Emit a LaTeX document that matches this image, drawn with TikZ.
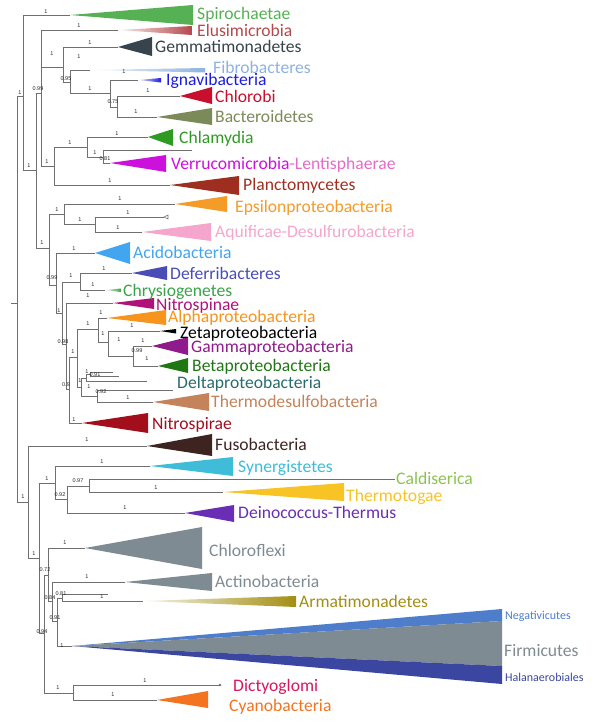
\documentclass[tikz,border=0pt]{standalone}
\usepackage{fontspec}
\setmainfont{Carlito}
\newfontfamily\supfamily{Liberation Sans}
\newcommand\txfont{\fontsize{17.6}{19}\selectfont}
\newcommand\smfont{\fontsize{12}{13}\selectfont}
\newcommand\bsfnt{\supfamily\fontsize{5.5}{6}\selectfont}
\definecolor{brcol}{HTML}{707070}
\definecolor{spiroC}{HTML}{55B153}
\definecolor{elusC}{HTML}{B5484C}
\definecolor{gemmC}{HTML}{37434D}
\definecolor{fibroC}{HTML}{8EB2E0}
\definecolor{ignaC}{HTML}{1C1CE0}
\definecolor{chlorobiC}{HTML}{C8102E}
\definecolor{bactC}{HTML}{7B8A58}
\definecolor{chlamC}{HTML}{2E9A22}
\definecolor{verrC}{HTML}{CC11DD}
\definecolor{lentC}{HTML}{E46BC8}
\definecolor{plancC}{HTML}{9E2F20}
\definecolor{epsiC}{HTML}{F49B28}
\definecolor{aquiC}{HTML}{F4A6CC}
\definecolor{acidoC}{HTML}{42A5F0}
\definecolor{deferC}{HTML}{4A4DB6}
\definecolor{chrysC}{HTML}{3BA349}
\definecolor{nitrospC}{HTML}{B0127A}
\definecolor{alphaC}{HTML}{F7941D}
\definecolor{gammaC}{HTML}{8E1A8B}
\definecolor{betaC}{HTML}{217614}
\definecolor{deltaC}{HTML}{2A6B6B}
\definecolor{tdesC}{HTML}{C4835A}
\definecolor{nspirC}{HTML}{A30E1C}
\definecolor{fusoC}{HTML}{3D2421}
\definecolor{synC}{HTML}{3EBCD8}
\definecolor{caldC}{HTML}{8CC252}
\definecolor{tmtgC}{HTML}{F7C325}
\definecolor{deinoC}{HTML}{6A2EB4}
\definecolor{grayC}{HTML}{7F8B92}
\definecolor{armatC}{HTML}{A38E12}
\definecolor{negC}{HTML}{4D7DCB}
\definecolor{halC}{HTML}{3A46A0}
\definecolor{dictC}{HTML}{D8175E}
\definecolor{cyanoC}{HTML}{F47320}
\tikzset{
  br/.style={draw=brcol, line width=0.85pt},
  lab/.style={font=\txfont, anchor=base west, inner sep=0pt},
  smlab/.style={font=\smfont, anchor=base west, inner sep=0pt},
  sup/.style={font=\bsfnt, inner sep=0pt, text=black!85},
}
\newcommand\tvert[3]{\draw[br] (#1 |- #2) -- (#1 |- #3);}
\newcommand\tbr[2]{\draw[br] (#1 |- #2) -- (#2);}
\newcommand\ctri[5]{\fill[#5] (#1) -- (#2,#3) -- (#2,#4) -- cycle;}
\newcommand\gtri[5]{\shade[left color=#5!10, right color=#5] (#1) -- (#2,#3) -- (#2,#4) -- cycle;}
\begin{document}
\begin{tikzpicture}[x=1pt,y=-1pt]
\useasboundingbox (0,0) rectangle (602,723);
% internal nodes
\coordinate (R0) at (17,300);
\coordinate (rt) at (11,303);
\coordinate (A) at (23,96);
\coordinate (B) at (36,170);
\coordinate (C) at (41,93);
\coordinate (E) at (63,67);
\coordinate (F) at (70,82);
\coordinate (G) at (110,93);
\coordinate (H) at (117,107);
\coordinate (I) at (54,166);
\coordinate (J) at (87,147);
\coordinate (K) at (103,157);
\coordinate (D) at (49,248);
\coordinate (L) at (64,214);
\coordinate (M) at (95,224);
\coordinate (N) at (56,285);
\coordinate (O) at (62,313);
\coordinate (P) at (80,282);
\coordinate (Q) at (66,344);
\coordinate (S) at (69,389);
\coordinate (T) at (77,357);
\coordinate (U) at (98,329);
\coordinate (W) at (108,342);
\coordinate (X) at (133,356);
\coordinate (V) at (81,387);
\coordinate (Z) at (86,378);
\coordinate (Z1) at (90,374);
\coordinate (Y) at (97,396);
\coordinate (AA) at (28,502);
\coordinate (BB) at (39,558);
\coordinate (CC) at (55,483);
\coordinate (JJ) at (67,499);
\coordinate (KK) at (89,486);
\coordinate (DD) at (44,633);
\coordinate (EE) at (48,575);
\coordinate (FF) at (52,601);
\coordinate (GG) at (57,621);
\coordinate (HH) at (62,598);
\coordinate (II) at (73,693);
% leaves
\coordinate (spiro) at (70,15);
\coordinate (elus) at (118,30);
\coordinate (gemm) at (118,47);
\coordinate (fibro) at (90,70);
\coordinate (igna) at (138,80);
\coordinate (chlb) at (180,96);
\coordinate (bact) at (157,117);
\coordinate (chlam) at (148,137);
\coordinate (lk) at (192,150);
\coordinate (verr) at (110,163);
\coordinate (planc) at (170,185);
\coordinate (epsi) at (175,204);
\coordinate (lm) at (164,217);
\coordinate (aqui) at (142,232);
\coordinate (acido) at (95,253);
\coordinate (defer) at (132,273);
\coordinate (chrys) at (105,290);
\coordinate (nitsp) at (113,303);
\coordinate (alpha) at (107,318);
\coordinate (zeta) at (160,331);
\coordinate (gamma) at (152,346);
\coordinate (beta) at (158,366);
\coordinate (d1) at (113,372);
\coordinate (d2) at (119,376);
\coordinate (d3) at (147,381);
\coordinate (d4) at (173,390);
\coordinate (tdes) at (153,402);
\coordinate (nspir) at (82,423);
\coordinate (fuso) at (147,446);
\coordinate (syn) at (150,466);
\coordinate (cald) at (395,479);
\coordinate (tmtg) at (223,492);
\coordinate (deino) at (185,513);
\coordinate (chlfx) at (85,548);
\coordinate (actino) at (125,582);
\coordinate (lh) at (108,594);
\coordinate (armat) at (143,601);
\coordinate (firm) at (72,646);
\coordinate (dict) at (220,685);
\coordinate (cyano) at (157,700);
% clade triangles
\ctri{spiro}{193}{5}{25}{spiroC}
\gtri{elus}{192}{26}{35}{elusC}
\ctri{gemm}{152}{37}{56}{gemmC}
\gtri{fibro}{205}{68}{72.5}{fibroC}
\gtri{igna}{161}{78}{82.5}{ignaC}
\ctri{chlb}{212}{87}{104}{chlorobiC}
\ctri{bact}{212}{108}{125}{bactC}
\ctri{chlam}{173}{129}{146}{chlamC}
\ctri{verr}{166}{155}{172}{verrC}
\ctri{planc}{239}{176}{195}{plancC}
\ctri{epsi}{227}{196}{212}{epsiC}
\ctri{aqui}{211}{223}{241}{aquiC}
\ctri{acido}{130}{242}{264}{acidoC}
\ctri{defer}{167}{266}{280}{deferC}
\gtri{chrys}{121}{288.5}{292}{chrysC}
\ctri{nitsp}{154}{298}{309}{nitrospC}
\ctri{alpha}{166}{310}{325}{alphaC}
\ctri{zeta}{176}{329}{333.5}{black}
\ctri{gamma}{188}{337}{355}{gammaC}
\ctri{beta}{188}{358}{373}{betaC}
\ctri{tdes}{209}{393}{411}{tdesC}
\ctri{nspir}{148}{413}{433}{nspirC}
\ctri{fuso}{212}{434}{456}{fusoC}
\ctri{syn}{233}{457}{476}{synC}
\ctri{tmtg}{344}{483}{501}{tmtgC}
\ctri{deino}{234}{505}{522}{deinoC}
\ctri{chlfx}{202}{527}{569}{grayC}
\ctri{actino}{212}{573}{591}{grayC}
\gtri{armat}{296}{596}{607}{armatC}
\fill[negC] (firm) -- (502,609) -- (502,621) -- cycle;
\fill[grayC] (firm) -- (502,621) -- (502,666) -- cycle;
\fill[halC] (firm) -- (502,666) -- (502,684) -- cycle;
\ctri{cyano}{208}{691}{708}{cyanoC}
% tree
\draw[br] (rt) -- (R0 |- rt);
\tvert{R0}{A}{AA} \tbr{R0}{A} \tbr{R0}{AA}
\tvert{A}{spiro}{B} \tbr{A}{spiro} \tbr{A}{B}
\tvert{B}{C}{D} \tbr{B}{C} \tbr{B}{D}
\tvert{C}{elus}{I} \tbr{C}{elus} \tbr{C}{E} \tbr{C}{I}
\tvert{E}{gemm}{F} \tbr{E}{gemm} \tbr{E}{F}
\tvert{F}{fibro}{G} \tbr{F}{fibro} \tbr{F}{G}
\tvert{G}{igna}{H} \tbr{G}{igna} \tbr{G}{H}
\tvert{H}{chlb}{bact} \tbr{H}{chlb} \tbr{H}{bact}
\tvert{I}{J}{planc} \tbr{I}{J} \tbr{I}{planc}
\tvert{J}{chlam}{K} \tbr{J}{chlam} \tbr{J}{K}
\tvert{K}{lk}{verr} \tbr{K}{lk} \tbr{K}{verr}
\tvert{D}{L}{N} \tbr{D}{L} \tbr{D}{N}
\tvert{L}{epsi}{M} \tbr{L}{epsi} \tbr{L}{M}
\tvert{M}{lm}{aqui} \tbr{M}{lm} \tbr{M}{aqui}
\tvert{N}{acido}{O} \tbr{N}{acido} \tbr{N}{O}
\tvert{O}{P}{Q} \tbr{O}{P} \tbr{O}{Q}
\tvert{P}{defer}{chrys} \tbr{P}{defer} \tbr{P}{chrys}
\tvert{Q}{nitsp}{S} \tbr{Q}{nitsp} \tbr{Q}{S}
\tvert{S}{T}{nspir} \tbr{S}{T} \tbr{S}{nspir}
\tvert{T}{U}{V} \tbr{T}{U} \tbr{T}{V}
\tvert{U}{alpha}{W} \tbr{U}{alpha} \tbr{U}{W}
\tvert{W}{zeta}{X} \tbr{W}{zeta} \tbr{W}{X}
\tvert{X}{gamma}{beta} \tbr{X}{gamma} \tbr{X}{beta}
\tvert{V}{Z}{Y} \tbr{V}{Z} \tbr{V}{Y}
\tvert{Z}{Z1}{d3} \tbr{Z}{Z1} \tbr{Z}{d3}
\tvert{Z1}{d1}{d2} \tbr{Z1}{d1} \tbr{Z1}{d2}
\tvert{Y}{d4}{tdes} \tbr{Y}{d4} \tbr{Y}{tdes}
\tvert{AA}{fuso}{BB} \tbr{AA}{fuso} \tbr{AA}{BB}
\tvert{BB}{CC}{DD} \tbr{BB}{CC} \tbr{BB}{DD}
\tvert{CC}{syn}{JJ} \tbr{CC}{syn} \tbr{CC}{JJ}
\tvert{JJ}{KK}{deino} \tbr{JJ}{KK} \tbr{JJ}{deino}
\tvert{KK}{cald}{tmtg} \tbr{KK}{cald} \tbr{KK}{tmtg}
\tvert{DD}{EE}{II} \tbr{DD}{EE} \tbr{DD}{II}
\tvert{EE}{chlfx}{FF} \tbr{EE}{chlfx} \tbr{EE}{FF}
\tvert{FF}{actino}{GG} \tbr{FF}{actino} \tbr{FF}{GG}
\tvert{GG}{HH}{firm} \tbr{GG}{HH} \tbr{GG}{firm}
\tvert{HH}{lh}{armat} \tbr{HH}{lh} \tbr{HH}{armat}
\tvert{II}{dict}{cyano} \tbr{II}{dict} \tbr{II}{cyano}
% leaf end markers
\draw[brcol, line width=0.6pt] (lm) -- ++(4,-2) -- ++(0,4) -- cycle;
\fill[brcol] (dict) circle (1.3);
% clade labels
\node[lab, text=spiroC] (tSpiro) at (197,19) {Spirochaetae};
\node[lab, text=elusC] (tElus) at (197,36) {Elusimicrobia};
\node[lab, text=gemmC] (tGemm) at (155,52.5) {Gemmatimonadetes};
\node[lab, text=fibroC] (tFibro) at (213,73.5) {Fibrobacteres};
\node[lab, text=ignaC] (tIgna) at (166,85.5) {Ignavibacteria};
\node[lab, text=chlorobiC] (tChlb) at (215,102.5) {Chlorobi};
\node[lab, text=bactC] (tBact) at (215,122.5) {Bacteroidetes};
\node[lab, text=chlamC] (tChlam) at (179,143.5) {Chlamydia};
\node[lab] (tVerr) at (171,169.5) {\textcolor{verrC}{Verrucomicrobia}\textcolor{lentC}{-Lentisphaerae}};
\node[lab, text=plancC] (tPlanc) at (243,190) {Planctomycetes};
\node[lab, text=epsiC] (tEpsi) at (235,212.5) {Epsilonproteobacteria};
\node[lab, text=aquiC] (tAqui) at (215,237.5) {Aquificae-Desulfurobacteria};
\node[lab, text=acidoC] (tAcido) at (133,258.5) {Acidobacteria};
\node[lab, text=deferC] (tDefer) at (170,279.5) {Deferribacteres};
\node[lab, text=chrysC] (tChrys) at (123,296) {Chrysiogenetes};
\node[lab, text=nitrospC] (tNitsp) at (156,310) {Nitrospinae};
\node[lab, text=alphaC] (tAlpha) at (168,322.5) {Alphaproteobacteria};
\node[lab, text=black] (tZeta) at (180,338) {Zetaproteobacteria};
\node[lab, text=gammaC] (tGamma) at (191,352.5) {Gammaproteobacteria};
\node[lab, text=betaC] (tBeta) at (192,371.5) {Betaproteobacteria};
\node[lab, text=deltaC] (tDelta) at (177,388.5) {Deltaproteobacteria};
\node[lab, text=tdesC] (tTdes) at (211,407.5) {Thermodesulfobacteria};
\node[lab, text=nspirC] (tNspir) at (152,429.5) {Nitrospirae};
\node[lab, text=fusoC] (tFuso) at (215,450.5) {Fusobacteria};
\node[lab, text=synC] (tSyn) at (238,472.5) {Synergistetes};
\node[lab, text=caldC] (tCald) at (396,484.5) {Caldiserica};
\node[lab, text=tmtgC] (tTmtg) at (346,501.5) {Thermotogae};
\node[lab, text=deinoC] (tDeino) at (238,518.5) {Deinococcus-Thermus};
\node[lab, text=grayC] (tChlfx) at (209,556.5) {Chloroflexi};
\node[lab, text=grayC] (tActino) at (215,587.5) {Actinobacteria};
\node[lab, text=armatC] (tArmat) at (299,607.5) {Armatimonadetes};
\node[smlab, text=negC] (tNeg) at (505,619.5) {Negativicutes};
\node[lab, text=grayC] (tFirm) at (504,656.5) {Firmicutes};
\node[smlab, text=halC] (tHal) at (505,681) {Halanaerobiales};
\node[lab, text=dictC] (tDict) at (233,691.5) {Dictyoglomi};
\node[lab, text=cyanoC] (tCyano) at (229,711) {Cyanobacteria};
% support values
\node[sup] (s1) at (46,12) {1};
\node[sup] (s2) at (20,93) {1};
\node[sup] (s3) at (79,26) {1};
\node[sup] (s4) at (38,89) {0.99};
\node[sup] (s5) at (52,54) {1};
\node[sup] (s6) at (90,43) {1};
\node[sup] (s7) at (79,57) {1};
\node[sup] (s8) at (66,79) {0.95};
\node[sup] (s9) at (124,72) {1};
\node[sup] (s10) at (90,89) {1};
\node[sup] (s11) at (113,102) {0.75};
\node[sup] (s12) at (148,91) {1};
\node[sup] (s13) at (136,112) {1};
\node[sup] (s14) at (117,134) {1};
\node[sup] (s15) at (70,143) {1};
\node[sup] (s16) at (95,153) {1};
\node[sup] (s17) at (105,159) {0.81};
\node[sup] (s18) at (47,162) {1};
\node[sup] (s19) at (29,166) {1};
\node[sup] (s20) at (110,181) {1};
\node[sup] (s21) at (120,199) {1};
\node[sup] (s22) at (57,210) {1};
\node[sup] (s23) at (128,213) {1};
\node[sup] (s24) at (80,220) {1};
\node[sup] (s25) at (118,228) {1};
\node[sup] (s26) at (42,243) {1};
\node[sup] (s27) at (74,249) {1};
\node[sup] (s28) at (104,269) {1};
\node[sup] (s29) at (71,276) {1};
\node[sup] (s30) at (52,278) {0.99};
\node[sup] (s31) at (93,285) {1};
\node[sup] (s32) at (88,296) {1};
\node[sup] (s33) at (59,311) {1};
\node[sup] (s34) at (101,313) {1};
\node[sup] (s35) at (88,324) {1};
\node[sup] (s36) at (132,326) {1};
\node[sup] (s37) at (103,334) {1};
\node[sup] (s38) at (63,342) {0.98};
\node[sup] (s39) at (119,340) {1};
\node[sup] (s40) at (143,341) {1};
\node[sup] (s41) at (137,351) {0.99};
\node[sup] (s42) at (73,352) {1};
\node[sup] (s43) at (147,359) {1};
\node[sup] (s44) at (87,372) {1};
\node[sup] (s45) at (95,375) {0.91};
\node[sup] (s46) at (80,381) {1};
\node[sup] (s47) at (66,385) {0.9};
\node[sup] (s48) at (89,387) {1};
\node[sup] (s49) at (101,392) {0.92};
\node[sup] (s50) at (128,398) {1};
\node[sup] (s51) at (74,420) {1};
\node[sup] (s52) at (87,440) {1};
\node[sup] (s53) at (102,462) {1};
\node[sup] (s54) at (47,479) {1};
\node[sup] (s55) at (78,481) {0.97};
\node[sup] (s56) at (156,488) {1};
\node[sup] (s57) at (60,495) {0.92};
\node[sup] (s58) at (23,497) {1};
\node[sup] (s59) at (125,508) {1};
\node[sup] (s60) at (34,554) {1};
\node[sup] (s61) at (65,543) {1};
\node[sup] (s62) at (45,570) {0.72};
\node[sup] (s63) at (87,577) {1};
\node[sup] (s64) at (61,594) {0.81};
\node[sup] (s65) at (102,597) {1};
\node[sup] (s66) at (50,598) {0.84};
\node[sup] (s67) at (55,618) {0.91};
\node[sup] (s68) at (42,632) {0.94};
\node[sup] (s69) at (62,646) {1};
\node[sup] (s70) at (145,681) {1};
\node[sup] (s71) at (58,688) {1};
\node[sup] (s72) at (113,695) {1};
\end{tikzpicture}
\end{document}
